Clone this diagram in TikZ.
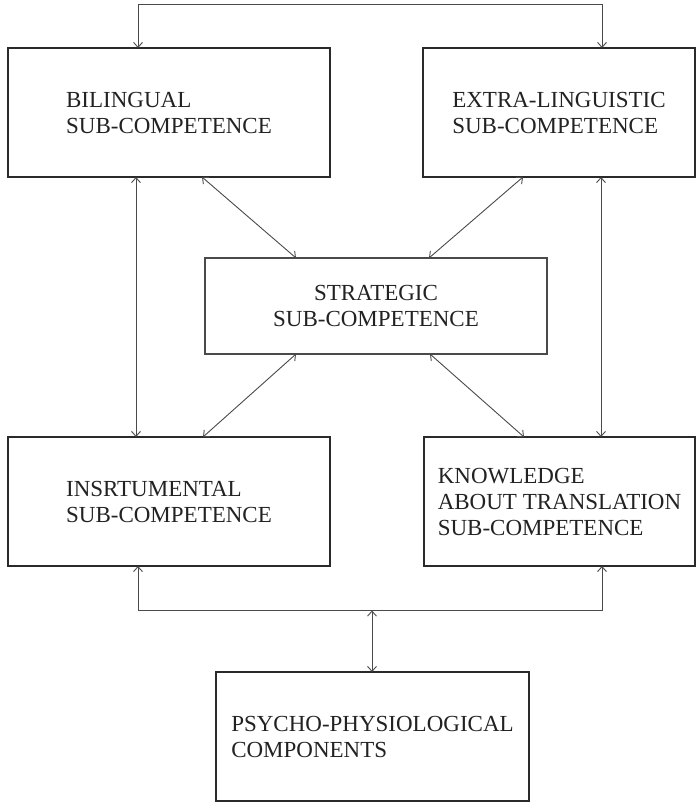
\documentclass[tikz,border=0pt]{standalone}
\usepackage{fontspec}
\setmainfont{Liberation Serif}
\usetikzlibrary{arrows.meta,calc}
\definecolor{boxline}{HTML}{2A2A2A}
\definecolor{thinline}{HTML}{4A4A4A}
\definecolor{txt}{HTML}{222222}
\tikzset{
  compbox/.style={draw=boxline, line width=2pt, rectangle, outer sep=0pt, inner sep=0pt,
    align=left, text=txt, font=\fontsize{23}{26}\selectfont, minimum height=129pt},
  thinbox/.style={compbox, line width=1.1pt, draw=thinline, align=center, minimum height=96pt},
  conn/.style={draw=thinline, line width=0.9pt, {Straight Barb[length=5pt,width=9pt]}-{Straight Barb[length=5pt,width=9pt]}}
}
\begin{document}
\begin{tikzpicture}[x=1pt,y=-1pt]
\useasboundingbox (0,0) rectangle (696,803);
\node[compbox, minimum width=322pt] (bil) at (169,112.5) {BILINGUAL\\SUB-COMPETENCE};
\node[compbox, minimum width=272pt] (ext) at (559,112.5) {EXTRA-LINGUISTIC\\SUB-COMPETENCE};
\node[thinbox, minimum width=342pt] (str) at (376,306) {STRATEGIC\\SUB-COMPETENCE};
\node[compbox, minimum width=322pt] (ins) at (169,501.5) {INSRTUMENTAL\\SUB-COMPETENCE};
\node[compbox, minimum width=271pt] (kno) at (559.5,501.5) {KNOWLEDGE\\ABOUT TRANSLATION\\SUB-COMPETENCE};
\node[compbox, minimum width=313pt] (psy) at (372.5,736.5) {PSYCHO-PHYSIOLOGICAL\\COMPONENTS};

\coordinate (tl) at (138,4);
\coordinate (tr) at (602,4);
\coordinate (bl) at (138,610.5);
\coordinate (br) at (602,610.5);
\coordinate (bm) at (372,610.5);

\draw[conn] (bil.north -| tl) -- (tl) -- (tr) -- (ext.north -| tr);
\draw[conn] ([xshift=-33pt]bil.south) -- ([xshift=-33pt]ins.north);
\draw[conn] ([xshift=42pt]ext.south) -- ([xshift=41.5pt]kno.north);
\draw[conn] ([xshift=33pt]bil.south) -- ([xshift=-80pt]str.north);
\draw[conn] ([xshift=-36pt]ext.south) -- ([xshift=53pt]str.north);
\draw[conn] ([xshift=-80pt]str.south) -- ([xshift=34pt]ins.north);
\draw[conn] ([xshift=54pt]str.south) -- ([xshift=-35.5pt]kno.north);
\draw[conn] (ins.south -| bl) -- (bl) -- (br) -- (kno.south -| br);
\draw[conn] (bm) -- (psy.north -| bm);
\end{tikzpicture}
\end{document}
